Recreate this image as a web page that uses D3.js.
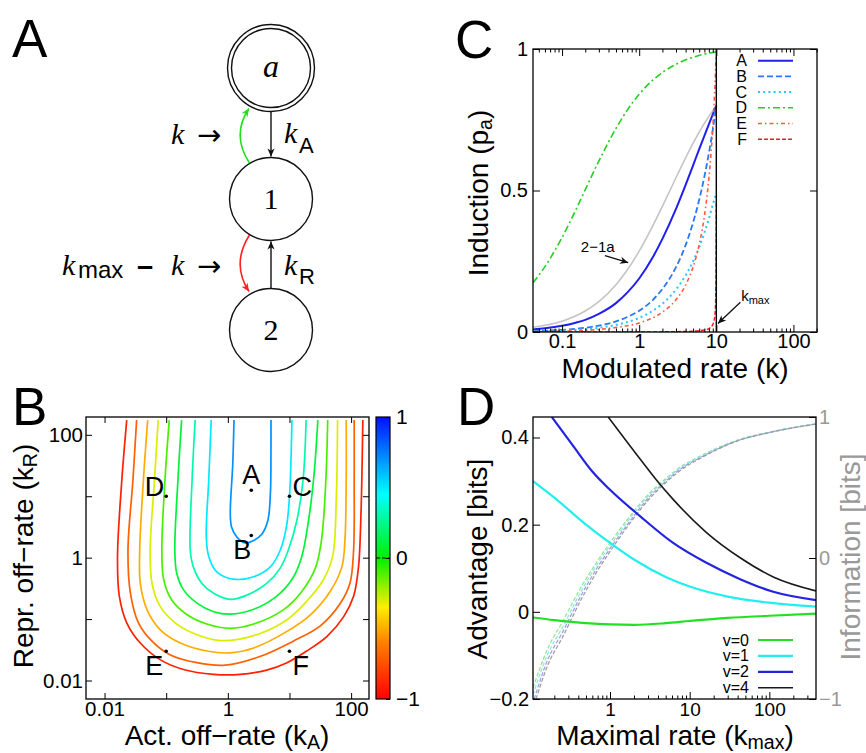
<!DOCTYPE html>
<html>
<head>
<meta charset="UTF-8">
<title>Induction and information</title>
<script src="https://d3js.org/d3.v7.min.js"></script>
<style>
  body { margin: 0; background: #fff; }
</style>
</head>
<body>
<svg id="fig" width="866" height="753"></svg>
<script>
// ---------------- data ----------------
// B: contour levels and their lines, points given as [log10 kA, log10 kR]
const contourLevels = [0.7, 0.5, 0.3, 0.1, -0.1, -0.3, -0.5, -0.7, -0.9];
const contourLog10 = [
  [[0.10,2.24],[0.08,1.53],[0.04,0.72],[0.06,0.50],[0.15,0.33],[0.28,0.24],[0.42,0.28],[0.55,0.38],[0.65,0.61],[0.69,1.04],[0.70,1.80],[0.70,2.24]],
  [[-0.27,2.24],[-0.31,1.26],[-0.35,0.34],[-0.31,0.02],[-0.18,-0.23],[0.09,-0.35],[0.42,-0.31],[0.69,-0.15],[0.85,0.12],[0.95,0.50],[1.00,0.99],[1.04,2.24]],
  [[-0.53,2.24],[-0.58,1.26],[-0.61,0.12],[-0.56,-0.15],[-0.42,-0.42],[-0.23,-0.58],[0.04,-0.68],[0.31,-0.61],[0.63,-0.42],[0.85,-0.17],[0.98,0.12],[1.12,0.61],[1.22,1.26],[1.27,2.24]],
  [[-0.75,2.24],[-0.81,1.26],[-0.86,0.12],[-0.83,-0.25],[-0.72,-0.52],[-0.50,-0.74],[-0.23,-0.88],[0.04,-0.92],[0.42,-0.84],[0.79,-0.63],[1.05,-0.34],[1.20,0.02],[1.31,0.61],[1.40,1.37],[1.46,2.24]],
  [[-0.95,2.24],[-1.02,1.26],[-1.07,0.12],[-1.04,-0.36],[-0.91,-0.69],[-0.66,-0.93],[-0.34,-1.08],[0.04,-1.15],[0.42,-1.08],[0.90,-0.85],[1.20,-0.55],[1.42,-0.17],[1.52,0.29],[1.59,1.26],[1.62,2.24]],
  [[-1.13,2.24],[-1.19,1.26],[-1.26,0.12],[-1.23,-0.42],[-1.10,-0.79],[-0.88,-1.04],[-0.56,-1.23],[-0.12,-1.35],[0.42,-1.27],[0.96,-1.01],[1.28,-0.71],[1.55,-0.36],[1.70,0.02],[1.76,0.99],[1.78,2.24]],
  [[-1.30,2.24],[-1.37,1.26],[-1.43,0.12],[-1.42,-0.42],[-1.31,-0.85],[-1.10,-1.17],[-0.77,-1.39],[-0.34,-1.52],[0.04,-1.55],[0.42,-1.47],[0.96,-1.20],[1.34,-0.93],[1.66,-0.55],[1.85,-0.15],[1.90,0.29],[1.92,1.26],[1.92,2.24]],
  [[-1.48,2.24],[-1.54,1.26],[-1.62,0.12],[-1.58,-0.58],[-1.45,-1.06],[-1.23,-1.36],[-0.94,-1.58],[-0.50,-1.71],[-0.04,-1.75],[0.52,-1.61],[1.06,-1.36],[1.50,-1.11],[1.82,-0.75],[1.98,-0.42],[2.04,0.12],[2.05,1.26],[2.05,2.24]],
  [[-1.64,2.24],[-1.72,1.26],[-1.79,0],[-1.76,-0.63],[-1.64,-1.06],[-1.42,-1.39],[-1.10,-1.66],[-0.72,-1.82],[-0.23,-1.90],[0.20,-1.90],[0.63,-1.83],[0.96,-1.71],[1.28,-1.52],[1.61,-1.28],[1.88,-0.96],[2.04,-0.63],[2.12,-0.15],[2.16,0.72],[2.19,2.24]]
];
const pointNames = ["A", "B", "C", "D", "E", "F"];
const pointKA = [2.4, 2.4, 10, 0.1, 0.1, 10];
const pointKR = [12.5, 2.3, 10, 10, 0.03, 0.03];
const colorbarValues = [-1, -0.6, -0.35, 0, 0.45, 1];
const colorbarColors = ["#ff0000", "#ff8000", "#ffee00", "#00f000", "#00ffff", "#0010ff"];
const ticksB = [0.01, 0.1, 1, 10, 100];
const labelsB = [0.01, 1, 100];
const colorbarTicks = [-1, 0, 1];

// C: induction p_a against modulated rate k, pairs [k, p_a]
const inductionA = [[0.042,0.009],[0.06,0.013],[0.1,0.022],[0.15,0.033],[0.2,0.043],[0.3,0.064],[0.5,0.102],[0.7,0.139],[1,0.189],[1.5,0.264],[2,0.329],[3,0.435],[4,0.52],[5,0.589],[6,0.646],[7,0.693],[8,0.734],[9,0.769],[10,0.8]];
const inductionB = [[0.042,0.003],[0.1,0.0075],[0.2,0.015],[0.3,0.0225],[0.5,0.0375],[0.7,0.053],[1,0.075],[1.5,0.113],[2,0.152],[3,0.229],[4,0.307],[5,0.387],[6,0.467],[7,0.549],[8,0.631],[9,0.715],[10,0.8]];
const inductionC = [[0.042,0.002],[0.1,0.005],[0.2,0.01],[0.3,0.015],[0.5,0.025],[0.7,0.035],[1,0.05],[1.5,0.075],[2,0.1],[3,0.15],[4,0.2],[5,0.25],[6,0.3],[7,0.35],[8,0.4],[9,0.45],[10,0.49]];
const inductionD = [[0.042,0.174],[0.06,0.231],[0.1,0.334],[0.15,0.43],[0.2,0.503],[0.3,0.604],[0.5,0.719],[0.7,0.784],[1,0.84],[1.5,0.89],[2,0.917],[3,0.946],[5,0.971],[7,0.982],[10,0.99]];
const inductionE = [[0.042,0.001],[0.1,0.003],[0.3,0.009],[0.5,0.016],[1,0.032],[2,0.07],[3,0.114],[4,0.166],[5,0.23],[6,0.309],[7,0.409],[8,0.542],[8.5,0.625],[9,0.724],[9.5,0.843],[9.8,0.927],[9.95,0.975]];
const inductionF = [[0.042,0],[1,0.0003],[3,0.0013],[5,0.003],[7,0.007],[8,0.012],[9,0.026],[9.5,0.051],[9.7,0.081],[9.8,0.113],[9.9,0.186],[9.95,0.272],[9.98,0.374],[10,0.46]];
const induction2to1a = [[0.042,0.017],[0.1,0.038],[0.2,0.074],[0.3,0.107],[0.5,0.167],[0.7,0.219],[1,0.286],[1.5,0.375],[2,0.444],[3,0.545],[4,0.615],[5,0.667],[7,0.737],[10,0.8]];
const kMaxC = 10;
const ticksCx = [0.1, 1, 10, 100];
const ticksCy = [0, 0.5, 1];

// D: advantage (left axis) and information (right axis) against k_max, pairs [k_max, bits]
const legendD = ["v=0", "v=1", "v=2", "v=4"];
const advantage0 = [[0.108,-0.013],[0.2,-0.019],[0.5,-0.026],[1,-0.029],[2,-0.030],[5,-0.026],[10,-0.021],[30,-0.014],[100,-0.009],[385,-0.004]];
const advantage1 = [[0.108,0.30],[0.2,0.262],[0.5,0.2],[1,0.158],[2,0.12],[5,0.08],[10,0.058],[30,0.035],[100,0.021],[385,0.012]];
const advantage2 = [[0.186,0.447],[0.35,0.379],[0.6,0.322],[1,0.28],[2.4,0.219],[6.2,0.158],[16,0.113],[43,0.075],[112,0.046],[385,0.027]];
const advantage4 = [[0.95,0.447],[2.4,0.35],[3.85,0.302],[6.2,0.258],[16,0.183],[43,0.124],[112,0.08],[385,0.048]];
const information0 = [[0.108,-0.92],[0.16,-0.66],[0.26,-0.44],[0.42,-0.22],[0.68,-0.03],[1.1,0.14],[1.8,0.30],[2.9,0.44],[4.7,0.55],[7,0.63],[15,0.735],[39,0.835],[100,0.893],[385,0.952]];
const information1 = [[0.108,-0.97],[0.16,-0.70],[0.26,-0.48],[0.42,-0.25],[0.68,-0.05],[1.1,0.12],[1.8,0.285],[2.9,0.43],[4.7,0.54],[7,0.625],[15,0.73],[39,0.832],[100,0.891],[385,0.951]];
const information2 = [[0.112,-1.0],[0.16,-0.74],[0.26,-0.515],[0.42,-0.28],[0.68,-0.075],[1.1,0.10],[1.8,0.265],[2.9,0.415],[4.7,0.53],[7,0.615],[15,0.725],[39,0.83],[100,0.89],[385,0.95]];
const information4 = [[0.118,-1.0],[0.16,-0.78],[0.26,-0.55],[0.42,-0.31],[0.68,-0.10],[1.1,0.08],[1.8,0.25],[2.9,0.40],[4.7,0.52],[7,0.605],[15,0.72],[39,0.828],[100,0.889],[385,0.95]];
const ticksDx = [1, 10, 100];
const ticksDy = [-0.2, 0, 0.2, 0.4];
const ticksDr = [-1, 0, 1];

// ---------------- drawing ----------------
const FONT = '"Liberation Sans", Arial, Helvetica, sans-serif';
const SERIF = '"Liberation Serif", "DejaVu Serif", serif';
const svg = d3.select("#fig").style("font-family", FONT);
const defs = svg.append("defs");

function marker(id, color) {
  defs.append("marker").attr("id", id)
    .attr("viewBox", "-10 -5 11 10").attr("refX", 0).attr("refY", 0)
    .attr("markerWidth", 10).attr("markerHeight", 9)
    .attr("markerUnits", "userSpaceOnUse").attr("orient", "auto")
    .append("path").attr("d", "M0,0 L-9,-4 L-6.5,0 L-9,4 Z").attr("fill", color);
}
marker("arrK", "#111");
marker("arrG", "#1ee01e");
marker("arrR", "#ff2020");

function panelLetter(t, x, y) {
  svg.append("text").attr("x", x).attr("y", y).attr("font-size", 53).text(t);
}

function minorLog(domain) {
  const out = [];
  for (let e = Math.floor(Math.log10(domain[0])); e <= Math.ceil(Math.log10(domain[1])); e++)
    for (let m = 2; m <= 9; m++) {
      const v = m * Math.pow(10, e);
      if (v > domain[0] && v < domain[1]) out.push(v);
    }
  return out;
}

function axis(gen, transform, size, pad, labels, fmt, fs) {
  const g = svg.append("g").attr("transform", transform)
    .call(gen.tickSize(-size).tickPadding(pad).tickFormat(labels ? fmt : () => ""));
  g.select(".domain").remove();
  g.attr("font-family", FONT).attr("font-size", fs || 20);
  g.selectAll("line").attr("stroke", "#000").attr("stroke-width", 1);
  g.selectAll("text").attr("fill", "#000");
  return g;
}

function frame(b) {
  svg.append("rect").attr("x", b.l).attr("y", b.t).attr("width", b.r - b.l).attr("height", b.b - b.t)
    .attr("fill", "none").attr("stroke", "#000").attr("stroke-width", 1.3);
}

function clip(id, b) {
  defs.append("clipPath").attr("id", id).append("rect")
    .attr("x", b.l).attr("y", b.t).attr("width", b.r - b.l).attr("height", b.b - b.t);
}

// label with a subscript, e.g. "Act. off−rate (k" + "A" + ")"
function subLabel(sel, head, sub, tail, size) {
  sel.append("tspan").text(head);
  sel.append("tspan").attr("font-size", size * 0.7).attr("dy", size * 0.16).text(sub);
  sel.append("tspan").attr("dy", -size * 0.16).text(tail);
  return sel;
}

const numFmt = d3.format("~g");
const LAB = 28;

// ---------- Panel A: scheme ----------
panelLetter("A", 12, 57);
const nodeX = 271, nodeR = 41.5;
const nodeY = { a: 68, one: 199, two: 330 };
const gA = svg.append("g").attr("stroke", "#111").attr("fill", "none").attr("stroke-width", 1.4);
gA.append("circle").attr("cx", nodeX).attr("cy", nodeY.a).attr("r", nodeR + 2);
gA.append("circle").attr("cx", nodeX).attr("cy", nodeY.a).attr("r", nodeR - 2);
gA.append("circle").attr("cx", nodeX).attr("cy", nodeY.one).attr("r", nodeR);
gA.append("circle").attr("cx", nodeX).attr("cy", nodeY.two).attr("r", nodeR);
gA.append("line").attr("x1", nodeX).attr("x2", nodeX)
  .attr("y1", nodeY.a + nodeR + 2).attr("y2", nodeY.one - nodeR - 1).attr("marker-end", "url(#arrK)");
gA.append("line").attr("x1", nodeX).attr("x2", nodeX)
  .attr("y1", nodeY.two - nodeR).attr("y2", nodeY.one + nodeR + 1).attr("marker-end", "url(#arrK)");
gA.append("path").attr("d", "M249.5,163 Q231,135 249,108.5").attr("stroke", "#1ee01e").attr("stroke-width", 1.6)
  .attr("marker-end", "url(#arrG)");
gA.append("path").attr("d", "M249.5,235 Q231,264 249,291.5").attr("stroke", "#ff2020").attr("stroke-width", 1.6)
  .attr("marker-end", "url(#arrR)");

function serif(t, x, y, size, italic) {
  return svg.append("text").attr("x", x).attr("y", y).attr("font-family", SERIF)
    .attr("font-size", size).attr("font-style", italic ? "italic" : "normal").text(t);
}
function rightArrow(x, y) {
  svg.append("text").attr("x", x).attr("y", y).attr("font-family", '"DejaVu Sans", sans-serif')
    .attr("font-size", 29).text("→");
}
serif("a", nodeX, nodeY.a + 9, 32, true).attr("text-anchor", "middle");
serif("1", nodeX, nodeY.one + 10, 30, false).attr("text-anchor", "middle");
serif("2", nodeX, nodeY.two + 10, 30, false).attr("text-anchor", "middle");
serif("k", 171, 144, 30, true);
rightArrow(197, 145);
serif("k", 284, 143, 30, true);
svg.append("text").attr("x", 299).attr("y", 153).attr("font-size", 22).text("A");
serif("k", 284, 275, 30, true);
svg.append("text").attr("x", 299).attr("y", 284).attr("font-size", 22).text("R");
serif("k", 62, 275, 30, true);
svg.append("text").attr("x", 78).attr("y", 278).attr("font-size", 24).text("max");
svg.append("text").attr("x", 137).attr("y", 276).attr("font-size", 29).attr("font-weight", "bold").text("–");
serif("k", 171, 275, 30, true);
rightArrow(197, 276);

// ---------- Panel B: contours ----------
panelLetter("B", 12, 425);
const bBox = { l: 86, r: 369, t: 417, b: 699 };
const bx = d3.scaleLog().domain([0.005, 195]).range([bBox.l, bBox.r]);
const by = d3.scaleLog().domain([0.005, 195]).range([bBox.b, bBox.t]);
const colour = d3.scaleLinear().domain(colorbarValues).range(colorbarColors);
clip("clipB", bBox);
const contourLine = d3.line()
  .x(p => bx(Math.pow(10, p[0]))).y(p => by(Math.pow(10, p[1])))
  .curve(d3.curveCatmullRom.alpha(0.5));
svg.append("g").attr("clip-path", "url(#clipB)").selectAll("path")
  .data(contourLog10).join("path")
  .attr("d", contourLine).attr("fill", "none")
  .attr("stroke", (d, i) => colour(contourLevels[i])).attr("stroke-width", 1.7);

const fmtB = d => labelsB.includes(d) ? numFmt(d) : "";
axis(d3.axisBottom(bx).tickValues(ticksB), `translate(0,${bBox.b})`, 6, 2, true, fmtB, 20.5);
axis(d3.axisTop(bx).tickValues(ticksB), `translate(0,${bBox.t})`, 6, 0, false);
axis(d3.axisLeft(by).tickValues(ticksB), `translate(${bBox.l},0)`, 6, 3, true, fmtB, 20.5);
axis(d3.axisRight(by).tickValues(ticksB), `translate(${bBox.r},0)`, 6, 0, false);
frame(bBox);

const gPts = svg.append("g");
const labelOffset = {
  A: [0, -6, "middle"], B: [0, 24, "end"], C: [3, 0, "start"],
  D: [-2, 0, "end"], E: [-3, 24, "end"], F: [3, 24, "start"]
};
pointNames.forEach((n, i) => {
  const x = bx(pointKA[i]), y = by(pointKR[i]);
  gPts.append("circle").attr("cx", x).attr("cy", y).attr("r", 1.8).attr("fill", "#000");
  const o = labelOffset[n];
  gPts.append("text").attr("x", x + o[0]).attr("y", y + o[1]).attr("text-anchor", o[2])
    .attr("font-size", 27).text(n);
});

// colorbar
const cb = { l: 376, r: 390, t: 417, b: 699 };
const cbScale = d3.scaleLinear().domain([-1, 1]).range([cb.b, cb.t]);
const grad = defs.append("linearGradient").attr("id", "cbGrad")
  .attr("x1", 0).attr("x2", 0).attr("y1", 1).attr("y2", 0);
colorbarValues.forEach((v, i) => {
  grad.append("stop").attr("offset", (v + 1) / 2).attr("stop-color", colorbarColors[i]);
});
svg.append("rect").attr("x", cb.l).attr("y", cb.t).attr("width", cb.r - cb.l).attr("height", cb.b - cb.t)
  .attr("fill", "url(#cbGrad)").attr("stroke", "#000").attr("stroke-width", 1.2);
svg.append("line").attr("x1", cb.l).attr("x2", cb.r).attr("y1", cbScale(0)).attr("y2", cbScale(0))
  .attr("stroke", "#000").attr("stroke-dasharray", "4,2").attr("stroke-width", 1);
axis(d3.axisRight(cbScale).tickValues(colorbarTicks), `translate(${cb.r},0)`, 4, 6, true, numFmt, 21);

// ---------- Panel C: induction ----------
panelLetter("C", 455, 58);
const cBox = { l: 533, r: 817, t: 49, b: 332 };
const cx = d3.scaleLog().domain([0.042, 202]).range([cBox.l, cBox.r]);
const cy = d3.scaleLinear().domain([0, 1]).range([cBox.b, cBox.t]);
clip("clipC", cBox);
const lineC = d3.line().x(d => cx(d[0])).y(d => cy(d[1])).curve(d3.curveMonotoneX);
const seriesC = [inductionA, inductionB, inductionC, inductionD, inductionE, inductionF];
const styleC = [
  { color: "#1f1ff0", dash: null, w: 2 },
  { color: "#2a78f5", dash: "6,3", w: 1.8 },
  { color: "#22c8ff", dash: "2,3.2", w: 2 },
  { color: "#22d022", dash: "7,3,2,3", w: 1.6 },
  { color: "#ff5a40", dash: "4,3,1.5,3", w: 1.6 },
  { color: "#ee1c1c", dash: "4,2", w: 1.4 }
];
const gC = svg.append("g").attr("clip-path", "url(#clipC)");
gC.append("path").attr("d", lineC(induction2to1a)).attr("fill", "none").attr("stroke", "#c4c4c4").attr("stroke-width", 1.6);
seriesC.forEach((s, i) => {
  gC.append("path").attr("d", lineC(s)).attr("fill", "none")
    .attr("stroke", styleC[i].color).attr("stroke-width", styleC[i].w)
    .attr("stroke-dasharray", styleC[i].dash);
});
svg.append("line").attr("x1", cx(kMaxC)).attr("x2", cx(kMaxC)).attr("y1", cBox.t).attr("y2", cBox.b)
  .attr("stroke", "#000").attr("stroke-width", 1.4);

axis(d3.axisBottom(cx).tickValues(minorLog(cx.domain())), `translate(0,${cBox.b})`, 3.5, 0, false);
axis(d3.axisTop(cx).tickValues(minorLog(cx.domain())), `translate(0,${cBox.t})`, 3.5, 0, false);
axis(d3.axisBottom(cx).tickValues(ticksCx), `translate(0,${cBox.b})`, 7, 2, true, numFmt);
axis(d3.axisTop(cx).tickValues(ticksCx), `translate(0,${cBox.t})`, 7, 0, false);
axis(d3.axisLeft(cy).tickValues(ticksCy), `translate(${cBox.l},0)`, 7, 5, true, numFmt);
axis(d3.axisRight(cy).tickValues(ticksCy), `translate(${cBox.r},0)`, 7, 0, false);
frame(cBox);

// legend C
const legC = svg.append("g");
pointNames.forEach((n, i) => {
  const y = 60.7 + i * 15.7;
  legC.append("text").attr("x", 747).attr("y", y + 5.5).attr("text-anchor", "end").attr("font-size", 16).text(n);
  legC.append("line").attr("x1", 758).attr("x2", 793).attr("y1", y).attr("y2", y)
    .attr("stroke", styleC[i].color).attr("stroke-width", styleC[i].w).attr("stroke-dasharray", styleC[i].dash);
});

// annotations C
svg.append("text").attr("x", cx(0.29)).attr("y", cy(0.30) + 5).attr("text-anchor", "middle")
  .attr("font-size", 15).text("2−1a");
svg.append("line").attr("x1", cx(0.36)).attr("y1", cy(0.27)).attr("x2", cx(0.72)).attr("y2", cy(0.245))
  .attr("stroke", "#111").attr("stroke-width", 1.3).attr("marker-end", "url(#arrK)");
const km = svg.append("text").attr("x", cx(21)).attr("y", cy(0.11)).attr("font-size", 15);
km.append("tspan").text("k");
km.append("tspan").attr("font-size", 11).attr("dy", 3).text("max");
svg.append("line").attr("x1", cx(20.5)).attr("y1", cy(0.105)).attr("x2", cx(10.5)).attr("y2", cy(0.03))
  .attr("stroke", "#111").attr("stroke-width", 1.3).attr("marker-end", "url(#arrK)");

// axis labels C
subLabel(svg.append("text").attr("transform", "translate(488,193) rotate(-90)")
  .attr("text-anchor", "middle").attr("font-size", LAB), "Induction (p", "a", ")", LAB);
svg.append("text").attr("x", 675).attr("y", 378).attr("text-anchor", "middle").attr("font-size", LAB)
  .text("Modulated rate (k)");

// ---------- Panel D: advantage ----------
panelLetter("D", 457, 425);
const dBox = { l: 533, r: 816, t: 417, b: 699 };
const dx = d3.scaleLog().domain([0.108, 385]).range([dBox.l, dBox.r]);
const dy = d3.scaleLinear().domain([-0.2, 0.447]).range([dBox.b, dBox.t]);
const dyR = d3.scaleLinear().domain([-1, 1]).range([dBox.b, dBox.t]);
clip("clipD", dBox);
const gD = svg.append("g").attr("clip-path", "url(#clipD)");
const infoSeries = [information0, information1, information2, information4];
const infoColors = ["#8ce88c", "#8ce6e6", "#9c9ce8", "#9a9a9a"];
const lineInfo = d3.line().x(d => dx(d[0])).y(d => dyR(d[1])).curve(d3.curveMonotoneX);
infoSeries.forEach((s, i) => {
  gD.append("path").attr("d", lineInfo(s)).attr("fill", "none")
    .attr("stroke", infoColors[i]).attr("stroke-width", 1.2).attr("stroke-dasharray", "4,2");
});
const advSeries = [advantage0, advantage1, advantage2, advantage4];
const advColors = ["#22e022", "#22eeee", "#2424e0", "#1a1a1a"];
const advWidths = [2.2, 2.2, 2.2, 1.6];
const lineAdv = d3.line().x(d => dx(d[0])).y(d => dy(d[1])).curve(d3.curveMonotoneX);
advSeries.forEach((s, i) => {
  gD.append("path").attr("d", lineAdv(s)).attr("fill", "none")
    .attr("stroke", advColors[i]).attr("stroke-width", advWidths[i]);
});

axis(d3.axisBottom(dx).tickValues(minorLog(dx.domain())), `translate(0,${dBox.b})`, 3.5, 0, false);
axis(d3.axisBottom(dx).tickValues(ticksDx), `translate(0,${dBox.b})`, 7, 3, true, numFmt, 19);
axis(d3.axisLeft(dy).tickValues(ticksDy), `translate(${dBox.l},0)`, 7, 4, true, numFmt);
const gr = axis(d3.axisRight(dyR).tickValues(ticksDr), `translate(${dBox.r},0)`, 7, 3, true, numFmt);
gr.selectAll("text").attr("fill", "#999");
frame(dBox);

const legD = svg.append("g");
legendD.forEach((n, i) => {
  const y = 640 + i * 15.9;
  legD.append("text").attr("x", 749).attr("y", y + 5.5).attr("text-anchor", "end").attr("font-size", 16).text(n);
  legD.append("line").attr("x1", 758).attr("x2", 793).attr("y1", y).attr("y2", y)
    .attr("stroke", advColors[i]).attr("stroke-width", advWidths[i]);
});

svg.append("text").attr("transform", "translate(487,559) rotate(-90)")
  .attr("text-anchor", "middle").attr("font-size", LAB).text("Advantage [bits]");
svg.append("text").attr("transform", "translate(860,557) rotate(-90)")
  .attr("text-anchor", "middle").attr("font-size", LAB).attr("fill", "#999").text("Information [bits]");
subLabel(svg.append("text").attr("x", 675).attr("y", 745).attr("text-anchor", "middle")
  .attr("font-size", LAB), "Maximal rate (k", "max", ")", LAB);

// axis labels B
subLabel(svg.append("text").attr("x", 227).attr("y", 745).attr("text-anchor", "middle")
  .attr("font-size", LAB), "Act. off−rate (k", "A", ")", LAB);
subLabel(svg.append("text").attr("transform", "translate(33,556) rotate(-90)")
  .attr("text-anchor", "middle").attr("font-size", LAB), "Repr. off−rate (k", "R", ")", LAB);
</script>
</body>
</html>
